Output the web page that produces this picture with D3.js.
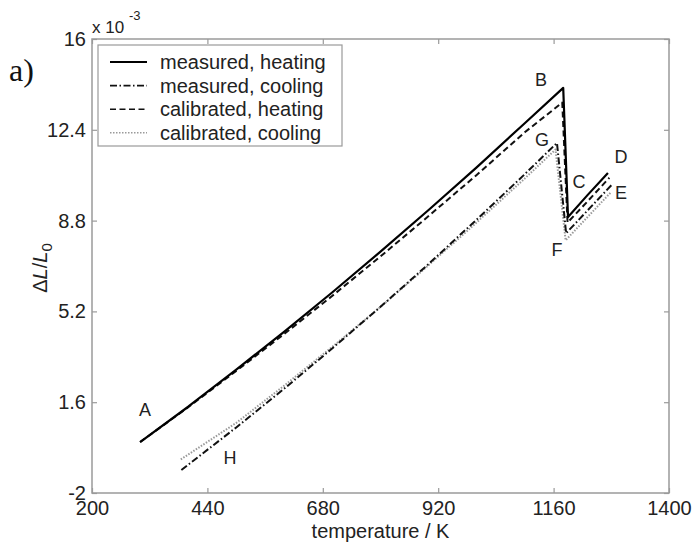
<!DOCTYPE html>
<html><head><meta charset="utf-8">
<script src="https://cdn.jsdelivr.net/npm/d3@7"></script>
<style>body{margin:0;background:#fff}svg{display:block}text{font-family:"Liberation Sans",Arial,sans-serif}</style>
</head><body><svg id="c" width="694" height="546"></svg>
<script>
// Data (ΔL/L0 in units of 1e-3, temperature in K)
const measuredHeatingT = [300, 400, 500, 600, 700, 800, 900, 1000, 1100, 1180, 1190, 1230, 1273];
const measuredHeatingV = [0.02, 1.42, 2.89, 4.40, 5.96, 7.57, 9.22, 10.91, 12.66, 14.06, 8.94, 9.80, 10.69];
const calibratedHeatingT = [300, 400, 500, 600, 700, 800, 900, 1000, 1100, 1178, 1189, 1230, 1276];
const calibratedHeatingV = [0.02, 1.40, 2.84, 4.31, 5.82, 7.38, 8.98, 10.61, 12.30, 13.48, 8.72, 9.55, 10.50];
const measuredCoolingT = [1280, 1186, 1167, 1100, 1000, 900, 800, 700, 600, 500, 383];
const measuredCoolingV = [10.20, 8.30, 11.88, 10.64, 8.84, 7.08, 5.38, 3.74, 2.14, 0.60, -1.13];
const calibratedCoolingT = [1278, 1185, 1164, 1100, 1000, 900, 800, 700, 600, 500, 383];
const calibratedCoolingV = [9.90, 8.02, 11.62, 10.47, 8.73, 7.03, 5.38, 3.80, 2.26, 0.78, -0.69];
const xTicks = [200, 440, 680, 920, 1160, 1400];
const yTicks = [-2, 1.6, 5.2, 8.8, 12.4, 16];
const yTickLabels = ["-2", "1.6", "5.2", "8.8", "12.4", "16"];
const pointLabels = ["A", "B", "C", "D", "E", "F", "G", "H"];
const pointLabelT = [310, 1134, 1213, 1300, 1300, 1167, 1136, 487];
const pointLabelV = [1.29, 14.38, 10.33, 11.32, 9.90, 7.64, 12.0, -0.61];
const legendLabels = ["measured, heating", "measured, cooling", "calibrated, heating", "calibrated, cooling"];

const svg = d3.select("#c");
const L = 92, R = 669, T = 39, B = 493;
const x = d3.scaleLinear().domain([200, 1400]).range([L, R]);
const y = d3.scaleLinear().domain([-2, 16]).range([B, T]);
const axisColor = "#9a9a9a";

// plot box
svg.append("rect").attr("x", L).attr("y", T).attr("width", R - L).attr("height", B - T)
  .attr("fill", "none").attr("stroke", axisColor).attr("stroke-width", 1.5);

const ax = [
  d3.axisBottom(x).tickValues(xTicks).tickFormat(d3.format("d")).tickSizeInner(-5).tickSizeOuter(0).tickPadding(8),
  d3.axisTop(x).tickValues(xTicks).tickFormat("").tickSizeInner(-5).tickSizeOuter(0),
  d3.axisLeft(y).tickValues(yTicks).tickFormat((d, i) => yTickLabels[i]).tickSizeInner(-5).tickSizeOuter(0).tickPadding(6),
  d3.axisRight(y).tickValues(yTicks).tickFormat("").tickSizeInner(-5).tickSizeOuter(0)
];
const tr = [`translate(0,${B})`, `translate(0,${T})`, `translate(${L},0)`, `translate(${R},0)`];
ax.forEach((a, i) => {
  const g = svg.append("g").attr("transform", tr[i]).call(a);
  g.select(".domain").remove();
  g.selectAll("line").attr("stroke", axisColor).attr("stroke-width", 1.2);
  g.selectAll("text").attr("fill", "#222").style("font-size", "20px");
});

// exponent
svg.append("text").attr("x", 92).attr("y", 33).style("font-size", "17px").attr("fill", "#222").text("x 10");
svg.append("text").attr("x", 129).attr("y", 20).style("font-size", "13px").attr("fill", "#222").text("-3");

// a)
svg.append("text").attr("x", 9).attr("y", 81).style("font-family", "'Liberation Serif','Times New Roman',serif")
  .style("font-size", "32px").attr("fill", "#111").text("a)");

// axis labels
svg.append("text").attr("x", (L + R) / 2).attr("y", 538).attr("text-anchor", "middle")
  .style("font-size", "20px").attr("fill", "#222").text("temperature / K");
const yl = svg.append("text").attr("transform", "translate(47,268) rotate(-90)").attr("text-anchor", "middle")
  .style("font-size", "20px").attr("fill", "#222");
yl.append("tspan").text("Δ");
yl.append("tspan").style("font-style", "italic").text("L");
yl.append("tspan").text("/");
yl.append("tspan").style("font-style", "italic").text("L");
yl.append("tspan").attr("dy", 5).style("font-size", "15px").text("0");

const styles = [
  {stroke: "#000", dash: null, w: 2.2},
  {stroke: "#111", dash: "7,2.5,1.5,2.5", w: 2},
  {stroke: "#111", dash: "6,3.5", w: 2},
  {stroke: "#9a9a9a", dash: "1.5,1.5", w: 2}
];
const series = [
  [measuredHeatingT, measuredHeatingV],
  [measuredCoolingT, measuredCoolingV],
  [calibratedHeatingT, calibratedHeatingV],
  [calibratedCoolingT, calibratedCoolingV]
];
const line = d3.line().x(d => x(d[0])).y(d => y(d[1])).curve(d3.curveLinear);
const drawOrder = [3, 1, 2, 0];
drawOrder.forEach(i => {
  const [ts, vs] = series[i];
  const pts = ts.map((t, k) => [t, vs[k]]);
  svg.append("path").attr("d", line(pts)).attr("fill", "none")
    .attr("stroke", styles[i].stroke).attr("stroke-width", styles[i].w)
    .attr("stroke-dasharray", styles[i].dash).attr("stroke-linejoin", "round");
});

// point labels
pointLabels.forEach((lab, i) => {
  svg.append("text").attr("x", x(pointLabelT[i])).attr("y", y(pointLabelV[i]))
    .attr("text-anchor", "middle").attr("dominant-baseline", "central")
    .style("font-size", "18px").attr("fill", "#222").text(lab);
});

// legend
const lg = svg.append("g");
lg.append("rect").attr("x", 98).attr("y", 45).attr("width", 244).attr("height", 101)
  .attr("fill", "#fff").attr("stroke", axisColor).attr("stroke-width", 1.2);
legendLabels.forEach((lab, i) => {
  const yy = 62 + i * 23.6;
  lg.append("line").attr("x1", 110).attr("x2", 147).attr("y1", yy).attr("y2", yy)
    .attr("stroke", styles[i].stroke).attr("stroke-width", styles[i].w - 0.4)
    .attr("stroke-dasharray", styles[i].dash);
  lg.append("text").attr("x", 160).attr("y", yy).attr("dominant-baseline", "central")
    .style("font-size", "20px").attr("fill", "#222").text(lab);
});
</script></body></html>
